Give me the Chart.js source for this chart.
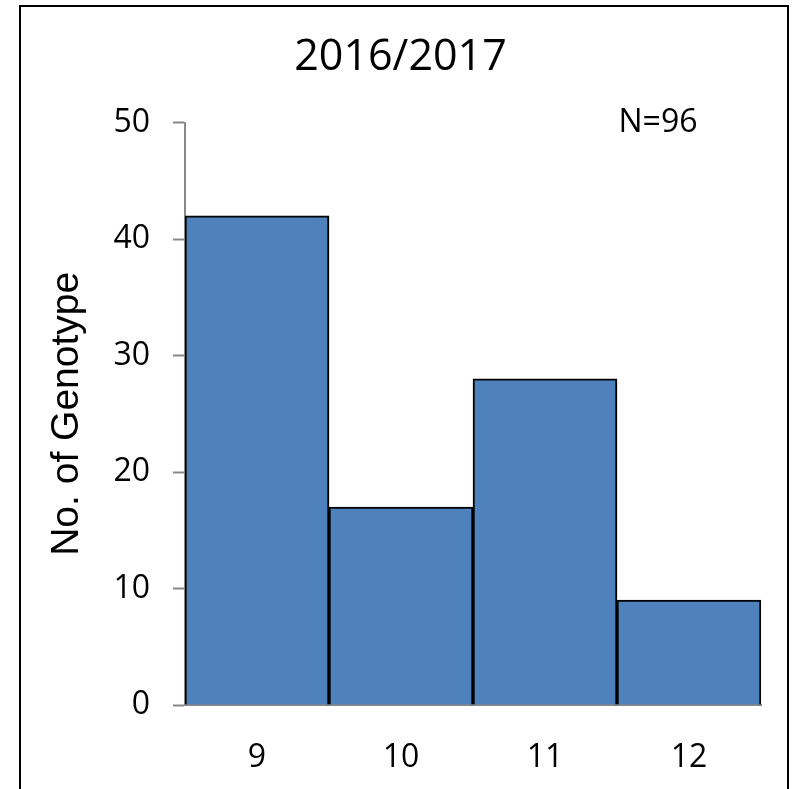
<!DOCTYPE html>
<html>
<head>
<meta charset="utf-8">
<script src="https://cdn.jsdelivr.net/npm/chart.js@4.4.1/dist/chart.umd.min.js"></script>
<style>
html,body{margin:0;padding:0;background:#fff;}
#wrap{width:792px;height:789px;position:relative;}
</style>
</head>
<body>
<div id="wrap"><canvas id="c" width="792" height="789"></canvas></div>
<script>
const categories = ['9', '10', '11', '12'];
const genotypeCounts = [42, 17, 28, 9];
const yTicks = [0, 10, 20, 30, 40, 50];
const chartTitle = '2016/2017';
const yAxisTitle = 'No. of Genotype';
const noteText = 'N=96';

const tickFont = "'Open Sans', sans-serif";

const framePlugin = {
  id: 'frame',
  afterDraw(chart) {
    const ctx = chart.ctx;
    ctx.save();
    ctx.strokeStyle = '#000';
    ctx.lineWidth = 2;
    ctx.strokeRect(20, 6, 768, 800);
    ctx.fillStyle = '#000';
    ctx.font = "32px " + tickFont;
    ctx.textAlign = 'center';
    ctx.textBaseline = 'middle';
    ctx.fillText(noteText, 658, 123);
    ctx.restore();
  }
};

new Chart(document.getElementById('c'), {
  type: 'bar',
  data: {
    labels: categories,
    datasets: [{
      data: genotypeCounts,
      backgroundColor: '#4F81BD',
      borderColor: '#000',
      borderWidth: 2,
      barPercentage: 1,
      categoryPercentage: 1
    }]
  },
  options: {
    responsive: false,
    animation: false,
    devicePixelRatio: 1,
    layout: { padding: { left: 40, right: 31, top: 0, bottom: 0 } },
    plugins: {
      legend: { display: false },
      tooltip: { enabled: false },
      title: {
        display: true,
        text: chartTitle,
        color: '#000',
        font: { family: tickFont, size: 43, weight: 'normal', lineHeight: 1.2 },
        padding: { top: 32, bottom: 39 }
      }
    },
    scales: {
      x: {
        grid: { display: false },
        border: { display: true, color: '#888', width: 2 },
        ticks: { color: '#000', font: { family: tickFont, size: 32 }, padding: 26 },
        afterFit(s) { s.height = 84; }
      },
      y: {
        min: 0,
        max: 50,
        afterBuildTicks(s) { s.ticks = yTicks.map(v => ({ value: v })); },
        grid: { display: true, drawOnChartArea: false, drawTicks: true, tickLength: 12, tickColor: '#888', tickWidth: 2 },
        border: { display: true, color: '#888', width: 2 },
        ticks: { color: '#000', font: { family: tickFont, size: 32 }, padding: 23 },
        title: {
          display: true,
          text: yAxisTitle,
          color: '#000',
          font: { family: "'Liberation Sans', Arial, sans-serif", size: 39, weight: 'normal', lineHeight: 1.2 },
          padding: { top: 4, bottom: 0 }
        },
        afterFit(s) { s.width = 145; }
      }
    }
  },
  plugins: [framePlugin]
});
</script>
</body>
</html>
